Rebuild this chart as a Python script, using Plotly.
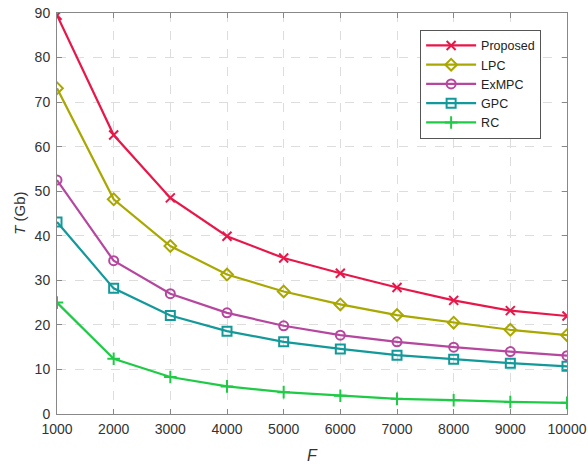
import plotly.graph_objects as go

F = [1000, 2000, 3000, 4000, 5000, 6000, 7000, 8000, 9000, 10000]
proposed = [89.5, 62.6, 48.5, 39.9, 35.0, 31.6, 28.4, 25.5, 23.2, 22.0]
lpc = [73.1, 48.2, 37.7, 31.3, 27.5, 24.6, 22.2, 20.5, 18.9, 17.7]
exmpc = [52.5, 34.4, 27.0, 22.7, 19.8, 17.7, 16.2, 15.0, 14.0, 13.1]
gpc = [43.1, 28.2, 22.1, 18.6, 16.2, 14.6, 13.2, 12.3, 11.4, 10.7]
rc = [25.0, 12.4, 8.3, 6.2, 4.9, 4.1, 3.4, 3.1, 2.7, 2.5]

series = [
    ("Proposed", proposed, "#e8174a", "x-thin-open"),
    ("LPC", lpc, "#a9a800", "diamond-open"),
    ("ExMPC", exmpc, "#b5479f", "circle-open"),
    ("GPC", gpc, "#14999a", "square-open"),
    ("RC", rc, "#1fcb46", "cross-thin-open"),
]

fig = go.Figure()
for name, vals, col, sym in series:
    fig.add_trace(go.Scatter(
        x=F, y=vals, name=name, mode="lines+markers",
        line=dict(color=col, width=2.2),
        marker=dict(symbol=sym, size=9, color=col, line=dict(color=col, width=2)),
    ))

axis_common = dict(
    showline=True, linecolor="#888888", linewidth=1, mirror="ticks",
    ticks="inside", ticklen=5, tickcolor="#888888",
    showgrid=True, gridcolor="#dddddd", griddash="dash", gridwidth=1,
    zeroline=False, automargin=False,
    tickfont=dict(family="Liberation Sans, Arial", size=14, color="#333333"),
)

fig.update_xaxes(
    range=[1000, 10000], tickvals=F, ticktext=[str(v) for v in F],
    title=dict(text="<i>F</i>", font=dict(family="Liberation Sans, Arial", size=16, color="#333333"), standoff=14),
    ticklabelstandoff=2,
    **axis_common,
)
fig.update_yaxes(
    range=[0, 90], tickvals=[0, 10, 20, 30, 40, 50, 60, 70, 80, 90],
    ticklabelstandoff=3,
    **axis_common,
)

fig.add_annotation(
    text="<i>T</i> (Gb)", xref="paper", yref="paper", x=-0.074, y=0.5,
    xanchor="center", yanchor="middle", textangle=-90, showarrow=False,
    font=dict(family="Liberation Sans, Arial", size=15, color="#333333"),
)

fig.update_layout(
    width=588, height=464,
    margin=dict(l=57, r=21, t=13, b=50),
    paper_bgcolor="white", plot_bgcolor="white",
    showlegend=True,
    legend=dict(
        x=0.712, y=0.958, xanchor="left", yanchor="top",
        bgcolor="white", bordercolor="#555555", borderwidth=1,
        font=dict(family="Liberation Sans, Arial", size=12.5, color="#222222"),
        itemwidth=50, tracegroupgap=0,
    ),
)

fig.write_html(
    "out.html",
    config={"displayModeBar": False},
    post_script="document.body.style.margin='0';document.body.style.overflow='hidden';",
)
